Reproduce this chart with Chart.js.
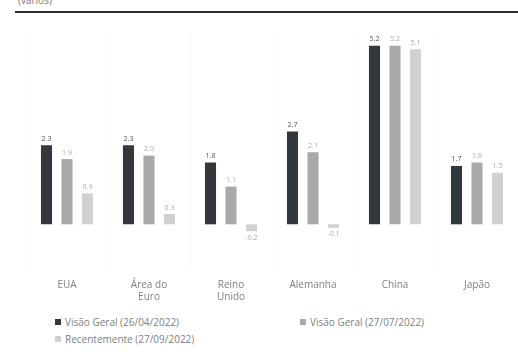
<!DOCTYPE html>
<html>
<head>
<meta charset="utf-8">
<script src="https://cdn.jsdelivr.net/npm/chart.js@4"></script>
<style>
  body { margin: 0; background: #fff; font-family: "Open Sans", sans-serif; }
  #wrap { position: relative; width: 518px; height: 363px; overflow: hidden; }
  #unit { position: absolute; left: 18px; top: -7px; font-size: 10px; color: #777; }
  #rule { position: absolute; left: 15px; right: 0; top: 11px; height: 2px; background: #2b2b2b; }
  #chart { position: absolute; left: 0; top: 0; }
  #legend { position: absolute; left: 0; top: 315px; width: 518px; font-size: 10px; color: #808080; }
  .item { position: absolute; white-space: nowrap; }
  .item i { display: inline-block; width: 6px; height: 6px; margin-right: 4px; vertical-align: 1px; }
</style>
</head>
<body>
<div id="wrap">
  <div id="unit">(vários)</div>
  <div id="rule"></div>
  <canvas id="chart" width="518" height="312"></canvas>
  <div id="legend"></div>
</div>
<script>
const categories = ['EUA', ['Área do', 'Euro'], ['Reino', 'Unido'], 'Alemanha', 'China', 'Japão'];
const seriesNames = ['Visão Geral (26/04/2022)', 'Visão Geral (27/07/2022)', 'Recentemente (27/09/2022)'];
const abril = [2.3, 2.3, 1.8, 2.7, 5.2, 1.7];
const julho = [1.9, 2.0, 1.1, 2.1, 5.2, 1.8];
const setembro = [0.9, 0.3, -0.2, -0.1, 5.1, 1.5];
const colors = ['#32383d', '#a9a9a9', '#d0d0d0'];

// value labels above (or below, for negatives) each bar
const valueLabels = {
  id: 'valueLabels',
  afterDatasetsDraw(chart) {
    const ctx = chart.ctx;
    ctx.save();
    ctx.font = '7px "Open Sans"';
    ctx.textAlign = 'center';
    chart.data.datasets.forEach((ds, i) => {
      chart.getDatasetMeta(i).data.forEach((bar, j) => {
        const v = ds.data[j];
        ctx.fillStyle = i === 0 ? '#555' : '#aaa';
        if (v >= 0) {
          ctx.textBaseline = 'bottom';
          ctx.fillText(v.toFixed(1), bar.x, bar.y - 3);
        } else {
          ctx.textBaseline = 'top';
          ctx.fillText(v.toFixed(1), bar.x, bar.y + 3);
        }
      });
    });
    ctx.restore();
  }
};

const chart = new Chart(document.getElementById('chart'), {
  type: 'bar',
  data: {
    labels: categories,
    datasets: [
      { label: seriesNames[0], data: abril, backgroundColor: colors[0] },
      { label: seriesNames[1], data: julho, backgroundColor: colors[1] },
      { label: seriesNames[2], data: setembro, backgroundColor: colors[2] }
    ]
  },
  options: {
    responsive: false,
    animation: false,
    layout: { padding: { left: 26, right: 0, top: 32, bottom: 0 } },
    categoryPercentage: 0.75,
    barPercentage: 0.54,
    plugins: { legend: { display: false }, tooltip: { enabled: false } },
    scales: {
      x: {
        grid: { color: 'rgba(0,0,0,0.02)', drawTicks: false },
        border: { display: false },
        ticks: { color: '#808080', font: { family: 'Open Sans', size: 10 }, padding: 9 }
      },
      y: {
        display: false,
        min: -1.33,
        max: 5.6
      }
    }
  },
  plugins: [valueLabels]
});

// html legend built from the datasets
const legend = document.getElementById('legend');
const spots = [[55, 0], [300, 0], [55, 17]];
chart.data.datasets.forEach((ds, i) => {
  const el = document.createElement('div');
  el.className = 'item';
  el.style.left = spots[i][0] + 'px';
  el.style.top = spots[i][1] + 'px';
  el.innerHTML = '<i style="background:' + ds.backgroundColor + '"></i>' + ds.label;
  legend.appendChild(el);
});
</script>
</body>
</html>
